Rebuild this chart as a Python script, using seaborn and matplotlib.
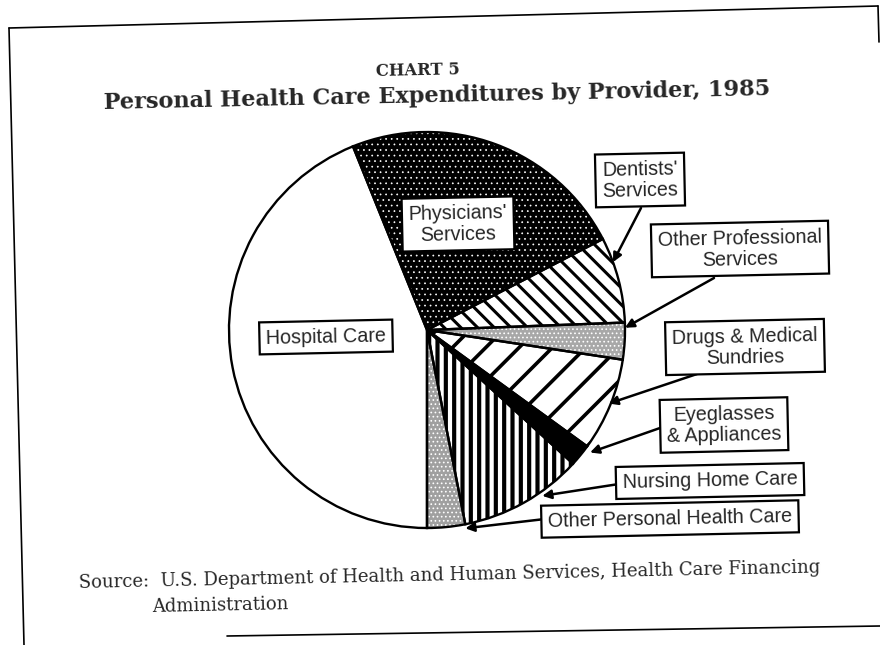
import matplotlib
matplotlib.use("Agg")
import matplotlib.pyplot as plt
import seaborn as sns
import numpy as np
from matplotlib.lines import Line2D

# shares of personal health care spending, 1985 (percent)
categories = ["Hospital Care", "Physicians' Services", "Dentists' Services",
              "Other Professional Services", "Drugs & Medical Sundries",
              "Eyeglasses & Appliances", "Nursing Home Care",
              "Other Personal Health Care"]
shares = [43.9, 23.5, 7.0, 3.0, 7.6, 1.8, 10.1, 3.1]
box_labels = ["Hospital Care", "Physicians'\nServices", "Dentists'\nServices",
              "Other Professional\nServices", "Drugs & Medical\nSundries",
              "Eyeglasses\n& Appliances", "Nursing Home Care",
              "Other Personal Health Care"]

# fill styles per slice
faces = ["white", "black", "white", "#a8a8a8", "white", "black", "white", "#a0a0a0"]
hatch_colors = ["white", "white", "black", "white", "black", "black", "black", "white"]
hatches = [None, "...", "\\\\", "....", "/", None, "||", "...."]
hatch_lw = [1, 0.5, 2.2, 0.7, 2.6, 1, 3.0, 0.7]

W, H = 880, 645
tilt = 1.2  # the scan is slightly rotated


def up(y):
    return H - y


sns.set_style("white")
plt.rcParams["font.family"] = ["Liberation Sans", "DejaVu Sans"]
plt.rcParams["hatch.linewidth"] = 2.0

fig = plt.figure(figsize=(8.8, 6.45), dpi=100)
ax = fig.add_axes([0, 0, 1, 1])

cx, cy, rad = 427, up(330), 198
wedges, _ = ax.pie(shares, startangle=-90, counterclock=False,
                   center=(cx, cy), radius=rad,
                   wedgeprops=dict(linewidth=0))
for w, fc, hc, hp, hl in zip(wedges, faces, hatch_colors, hatches, hatch_lw):
    w.set_facecolor(fc)
    w.set_edgecolor(hc)
    w.set_hatch(hp)
    if hasattr(w, "set_hatch_linewidth"):
        w.set_hatch_linewidth(hl)
# outlines on top
ax.pie(shares, startangle=-90, counterclock=False, center=(cx, cy), radius=rad,
       wedgeprops=dict(fill=False, edgecolor="black", linewidth=1.7))

ax.set_xlim(0, W)
ax.set_ylim(0, H)
ax.set_aspect("equal")
ax.axis("off")

box = dict(boxstyle="square,pad=0.33", fc="white", ec="black", lw=1.6)
label_font = 14.2

# labels sitting inside the pie
inside = {0: (326, 337), 1: (458, 224)}
for i, (x, y) in inside.items():
    ax.text(x, up(y), box_labels[i], ha="center", va="center", fontsize=label_font,
            rotation=tilt, bbox=box, linespacing=1.12)

# labels outside with arrows: box centre, arrow tail, where the tip lands in the slice
outside = {
    2: ((640, 180), (641, 208), 0.71, 1.0),
    3: ((740, 249), (714, 278), 0.86, 1.0),
    4: ((745, 347), (697, 374), 0.51, 0.99),
    5: ((724, 425), (660, 428), 0.86, 1.03),
    6: ((710, 481), (619, 484), 0.65, 1.02),
    7: ((670, 519), (545, 519), 0.98, 1.02),
}
for i, (pos, tail, frac, rr) in outside.items():
    w = wedges[i]
    ang = np.deg2rad(w.theta1 + frac * (w.theta2 - w.theta1))
    tip = (cx + rr * rad * np.cos(ang), cy + rr * rad * np.sin(ang))
    ax.annotate("", xy=tip, xytext=(tail[0], up(tail[1])),
                arrowprops=dict(arrowstyle="-|>", color="black", lw=1.8,
                                mutation_scale=13, shrinkA=0, shrinkB=0))
    ax.text(pos[0], up(pos[1]), box_labels[i], ha="center", va="center",
            fontsize=label_font, rotation=tilt, bbox=box, linespacing=1.12,
            zorder=5)

renderer = fig.canvas.get_renderer()


def fit(txt, width):
    bb = txt.get_window_extent(renderer)
    txt.set_fontsize(txt.get_fontsize() * width / bb.width)


serif = ["DejaVu Serif"]
t0 = fig.text(418 / W, up(75) / H, "CHART 5", ha="center", va="baseline",
              family=serif, weight="bold", fontsize=12, rotation=tilt,
              rotation_mode="anchor")
fit(t0, 84)
t1 = fig.text(437 / W, up(102) / H,
              "Personal Health Care Expenditures by Provider, 1985",
              ha="center", va="baseline", family=serif, weight="bold",
              fontsize=17, rotation=tilt, rotation_mode="anchor")
fit(t1, 669)

s1 = fig.text(79 / W, up(588) / H,
              "Source:  U.S. Department of Health and Human Services, Health Care Financing",
              ha="left", va="baseline", family=serif, fontsize=12,
              rotation=tilt, rotation_mode="anchor")
fit(s1, 735)
fig.text(152 / W, up(612) / H, "Administration", ha="left", va="baseline",
         family=serif, fontsize=s1.get_fontsize(), rotation=tilt,
         rotation_mode="anchor")

# frame of the scanned page
frame = [((9, 28), (878, 6)), ((9, 28), (24, 645)), ((878, 6), (879, 42)),
         ((227, 636), (880, 626))]
for (x0, y0), (x1, y1) in frame:
    fig.add_artist(Line2D([x0 / W, x1 / W], [up(y0) / H, up(y1) / H],
                          transform=fig.transFigure, color="black", lw=1.2))

fig.savefig("out.png", dpi=100)
